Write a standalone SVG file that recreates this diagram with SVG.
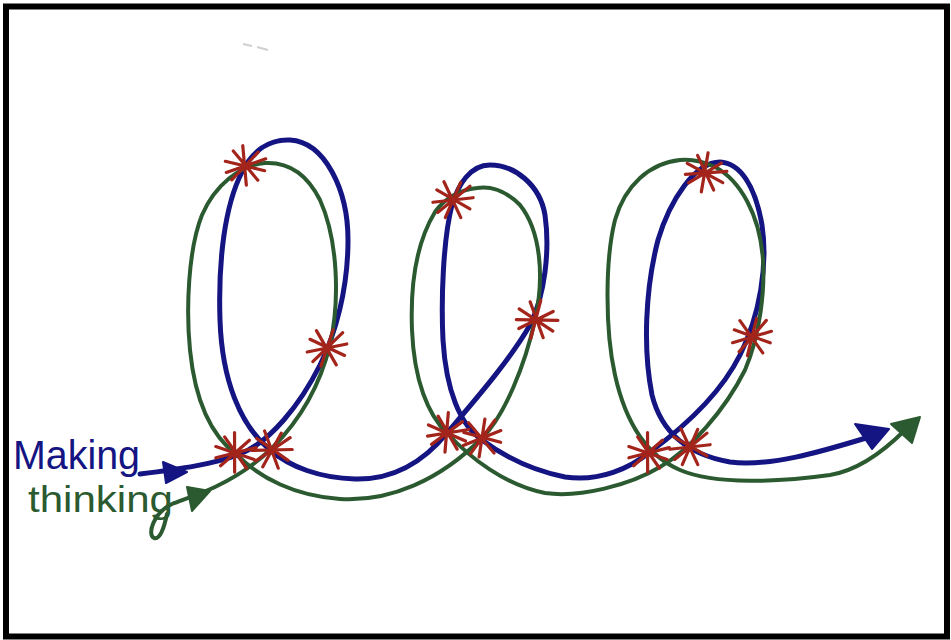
<svg xmlns="http://www.w3.org/2000/svg" xmlns:xlink="http://www.w3.org/1999/xlink" width="951" height="640" viewBox="0 0 951 640">
<style>
.blue{fill:none;stroke:#141482;stroke-width:5;stroke-linecap:round;stroke-linejoin:round}
.green{fill:none;stroke:#2b5a30;stroke-width:4;stroke-linecap:round;stroke-linejoin:round}
.star{fill:none;stroke:#a3241a;stroke-width:3.2;stroke-linecap:round}
.lbl{font-family:"Liberation Sans",Arial,sans-serif}
</style>
<defs>
<path id="star" class="star" d="M-20,-3 L20,3 M-13,-14 L14,13 M-4,-20 L3,19 M12,-15 L-12,15 M20,-9 L-18,8"/>
</defs>
<rect x="0" y="0" width="951" height="640" fill="#ffffff"/>
<rect id="frame" x="6" y="6.5" width="941" height="630" fill="none" stroke="#000" stroke-width="6"/>
<path d="M243,44 L252,46 M257,47 L268,50" stroke="#d0d0d0" stroke-width="2" fill="none"/>
<g id="connectors">
<g id="making-path">
<path class="blue" d="M140,474 C180,469 215,464 240,454 C270,442 300,405 320,365 C335,335 348,290 348,240 C348,190 325,142 290,140 C268,139 252,152 242,172 C225,205 218,260 220,320 C222,380 240,425 270,450 C290,467 320,478 355,479 C395,480 425,460 447,433 C475,400 510,360 530,325 C545,295 550,250 545,215 C540,185 515,165 490,165 C470,165 458,185 452,205 C443,240 441,300 443,340 C446,390 460,425 482,440 C505,457 530,470 565,477 C600,482 630,468 650,452 C680,430 720,395 740,355 C760,315 768,265 762,225 C755,185 740,163 720,162 C695,162 670,200 658,240 C645,290 643,350 652,395 C662,435 690,455 730,462 C770,467 820,452 866,438"/>
<polygon points="163,462 187,472 166,483" fill="#141482" stroke="#141482" stroke-width="2" stroke-linejoin="round"/>
<polygon points="855,424 889,429 872,449" fill="#141482" stroke="#141482" stroke-width="2" stroke-linejoin="round"/>
</g>
<g id="thinking-path">
<path class="green" d="M167,514 C164,528 160,540 154,538 C147,535 153,513 172,504 C185,499 200,494 215,487 C240,475 258,462 273,447 C300,420 320,385 330,345 C340,300 338,240 320,200 C305,170 285,162 265,163 C240,165 215,185 202,215 C188,250 186,310 190,350 C195,400 210,435 237,455 C260,478 295,496 340,499 C390,502 440,480 482,438 C505,415 525,365 535,320 C545,275 540,230 520,205 C505,190 490,186 477,188 C460,190 445,198 435,212 C418,240 410,280 412,330 C414,380 428,415 447,433 C470,458 505,485 545,493 C580,498 630,485 660,467 C690,450 725,410 745,370 C760,335 765,290 763,260 C760,215 740,180 715,167 C700,160 690,159 680,160 C650,163 625,185 615,220 C605,260 605,330 615,375 C625,420 645,455 680,470 C715,485 780,482 830,475 C860,470 885,450 905,430"/>
<polygon points="187,487 210,491 192,511" fill="#2b5a30" stroke="#2b5a30" stroke-width="2" stroke-linejoin="round"/>
<polygon points="891,424 920,417 912,443" fill="#2b5a30" stroke="#2b5a30" stroke-width="2" stroke-linejoin="round"/>
</g>
</g>
<g id="stars">
<use xlink:href="#star" transform="translate(245,166) rotate(5)"/>
<use xlink:href="#star" transform="translate(327,348) rotate(-20)"/>
<use xlink:href="#star" transform="translate(235,453) rotate(10)"/>
<use xlink:href="#star" transform="translate(272,450) rotate(-10)"/>
<use xlink:href="#star" transform="translate(453,200) rotate(-15)"/>
<use xlink:href="#star" transform="translate(536,320) rotate(25)"/>
<use xlink:href="#star" transform="translate(447,433) rotate(15)"/>
<use xlink:href="#star" transform="translate(482,438) rotate(-30)"/>
<use xlink:href="#star" transform="translate(705,173) rotate(20)"/>
<use xlink:href="#star" transform="translate(752,337) rotate(-25)"/>
<use xlink:href="#star" transform="translate(648,453) rotate(10)"/>
<use xlink:href="#star" transform="translate(690,447) rotate(-15)"/>
</g>
<g id="labels">
<text class="lbl" x="13" y="469" font-size="40" fill="#141482" textLength="127" lengthAdjust="spacingAndGlyphs">Making</text>
<text class="lbl" x="28" y="512" font-size="36" fill="#2b5a30" textLength="145" lengthAdjust="spacingAndGlyphs">thinking</text>
</g>
</svg>
